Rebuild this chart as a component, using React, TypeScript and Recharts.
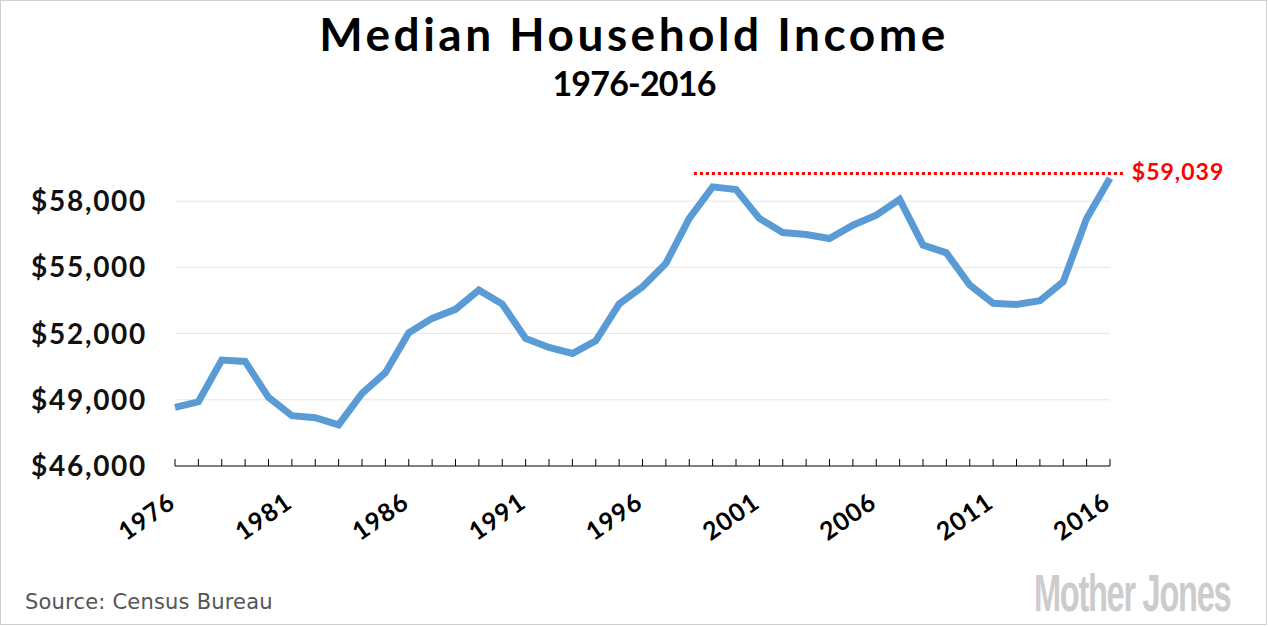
import { LineChart, Line, XAxis, YAxis, CartesianGrid, ReferenceLine } from "recharts";

const years = [
  1976, 1977, 1978, 1979, 1980, 1981, 1982, 1983, 1984, 1985, 1986, 1987, 1988, 1989,
  1990, 1991, 1992, 1993, 1994, 1995, 1996, 1997, 1998, 1999, 2000, 2001, 2002, 2003,
  2004, 2005, 2006, 2007, 2008, 2009, 2010, 2011, 2012, 2013, 2014, 2015, 2016,
];

const income = [
  48660, 48910, 50800, 50740, 49110, 48280, 48190, 47860, 49290, 50230, 52040, 52690,
  53100, 53970, 53340, 51780, 51370, 51100, 51670, 53340, 54120, 55180, 57220, 58650,
  58530, 57220, 56580, 56490, 56310, 56910, 57370, 58080, 56010, 55660, 54200, 53370,
  53320, 53490, 54350, 57220, 59039,
];

const labelYears = [1976, 1981, 1986, 1991, 1996, 2001, 2006, 2011, 2016];
const yTicks = [46000, 49000, 52000, 55000, 58000];
const gridLevels = [49000, 52000, 55000, 58000];

// dotted marker at the 2016 level, with its label
const peakLabel = "$59,039";
const peakLevel = 59260;
const peakFrom = 1998.2;
const peakTo = 2016.55;

const data = years.map((year, i) => ({ year, income: income[i] }));

const FONT = "Lato, 'Noto Sans', sans-serif";

function YearTick(props: any) {
  const { x, y, payload } = props;
  const yr = payload.value;
  const tx = x + 2;
  const ty = y + 40;
  return (
    <g>
      <line x1={x} x2={x} y1={y} y2={y - 7} stroke="#000" strokeWidth={1} />
      {labelYears.includes(yr) && (
        <text
          x={tx}
          y={ty}
          textAnchor="end"
          transform={`rotate(-35 ${tx} ${ty})`}
          fontFamily={FONT}
          fontWeight={700}
          fontSize={25}
          letterSpacing={1}
          fill="#000"
        >
          {yr}
        </text>
      )}
    </g>
  );
}

export default function App() {
  return (
    <div style={{ position: "relative", width: 1268, height: 626, background: "#fff", fontFamily: FONT }}>
      <style>{`body{margin:0}`}</style>
      <div
        style={{
          position: "absolute",
          left: 0,
          top: 0,
          width: 1265,
          height: 623,
          border: "1px solid #cfcfcf",
          boxSizing: "content-box",
        }}
      />
      <div
        style={{
          position: "absolute",
          top: 7,
          left: 0,
          width: 1268,
          textAlign: "center",
          fontSize: 46,
          fontWeight: 700,
          color: "#000",
          lineHeight: "54px",
          letterSpacing: 3.5,
        }}
      >
        Median Household Income
      </div>
      <div
        style={{
          position: "absolute",
          top: 63,
          left: 0,
          width: 1268,
          textAlign: "center",
          fontSize: 34,
          fontWeight: 700,
          color: "#000",
          lineHeight: "40px",
          letterSpacing: -0.8,
        }}
      >
        1976-2016
      </div>
      <LineChart
        width={1268}
        height={626}
        data={data}
        margin={{ top: 135, right: 158, bottom: 100, left: 0 }}
        style={{ position: "absolute", left: 0, top: 0 }}
      >
        <CartesianGrid vertical={false} horizontalValues={gridLevels} stroke="#e6e6e6" strokeWidth={1} />
        <XAxis
          dataKey="year"
          type="number"
          domain={[1976, 2016]}
          ticks={years}
          interval={0}
          height={60}
          tickSize={0}
          tickMargin={0}
          tickLine={false}
          axisLine={{ stroke: "#000", strokeWidth: 1 }}
          tick={(p: any) => <YearTick {...p} />}
        />
        <YAxis
          type="number"
          domain={[46000, 61000]}
          ticks={yTicks}
          width={175}
          axisLine={false}
          tickLine={false}
          tickMargin={22}
          tickFormatter={(v: number) => `$${v.toLocaleString("en-US")}`}
          tick={{ fontSize: 28, fontWeight: 700, fill: "#111", fontFamily: FONT, letterSpacing: 1.7 }}
        />
        <ReferenceLine
          segment={[
            { x: peakFrom, y: peakLevel },
            { x: peakTo, y: peakLevel },
          ]}
          ifOverflow="visible"
          stroke="#ff0000"
          strokeWidth={3}
          strokeDasharray="3 3"
          label={{
            value: peakLabel,
            position: "right",
            offset: 9,
            dy: -2,
            fill: "#ff0000",
            fontSize: 23,
            fontWeight: 700,
            fontFamily: FONT,
            letterSpacing: 1,
          }}
        />
        <Line
          type="linear"
          dataKey="income"
          stroke="#5b9bd5"
          strokeWidth={7}
          dot={false}
          activeDot={false}
          isAnimationActive={false}
        />
      </LineChart>
      <div
        style={{
          position: "absolute",
          left: 25,
          top: 590,
          fontFamily: "'DejaVu Sans', sans-serif",
          fontSize: 21,
          color: "#555",
          letterSpacing: 0.2,
        }}
      >
        Source: Census Bureau
      </div>
      <svg style={{ position: "absolute", left: 0, top: 0 }} width={1268} height={626}>
        <g transform="translate(1034 611) scale(0.625 1)">
          <text
            x={0}
            y={0}
            fontFamily="'Liberation Sans', Arial, sans-serif"
            fontWeight={700}
            fontSize={52}
            fill="#cccccc"
            letterSpacing={-2}
          >
            Mother Jones
          </text>
        </g>
      </svg>
    </div>
  );
}
